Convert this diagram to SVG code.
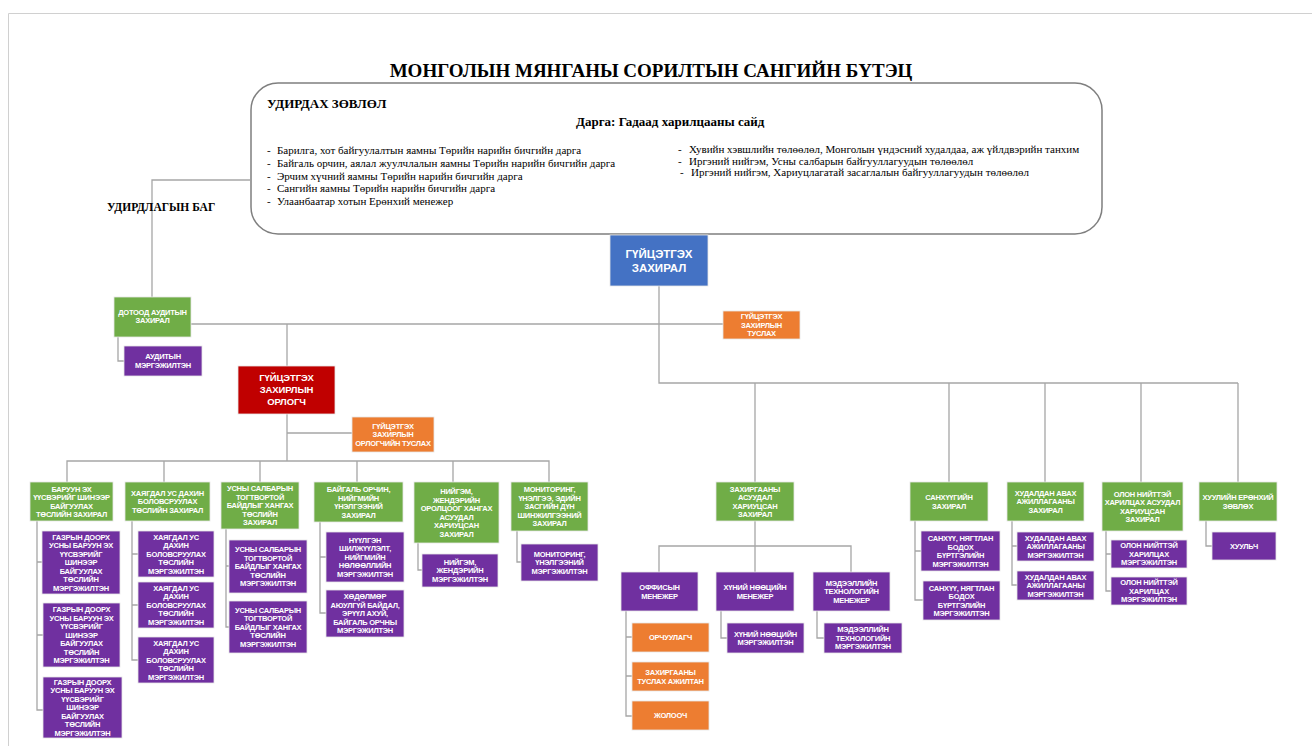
<svg xmlns="http://www.w3.org/2000/svg" width="1312" height="746" viewBox="0 0 1312 746">
<style>
.bg{fill:#ffffff}
.page{fill:none;stroke:#d0d0d0;stroke-width:1}
.c{fill:none;stroke:#a6a6a6;stroke-width:1.3}
.board{fill:#ffffff;stroke:#7f7f7f;stroke-width:1.5}
.g{fill:#70ad47;stroke:#e6e6e6;stroke-width:0.8}
.p{fill:#7030a0;stroke:#e6e6e6;stroke-width:0.8}
.o{fill:#ed7d31;stroke:#e6e6e6;stroke-width:0.8}
.b{fill:#4472c4;stroke:#e6e6e6;stroke-width:0.8}
.r{fill:#c00000;stroke:#e6e6e6;stroke-width:0.8}
.t{font-family:"Liberation Sans",Arial,sans-serif;font-weight:bold;fill:#ffffff;font-size:7.5px;text-anchor:middle;letter-spacing:-0.25px}
.tb{font-size:11.5px;letter-spacing:0}
.tr{font-size:9.5px;letter-spacing:-0.1px}
.s{font-family:"Liberation Serif","Times New Roman",serif;fill:#000000}
.h{font-weight:bold}
.li{font-size:11px}
</style>
<rect class="bg" x="0" y="0" width="1312" height="746"/>
<path class="page" d="M8.5 746 V13.5 H1312"/>

<text class="s h" x="651" y="77" font-size="19" text-anchor="middle">МОНГОЛЫН МЯНГАНЫ СОРИЛТЫН САНГИЙН БҮТЭЦ</text>

<g id="connectors">
<path class="c" d="M250 180 H152 V297"/>
<path class="c" d="M118 337 V361 H124"/>
<path class="c" d="M191 324 H723"/>
<path class="c" d="M659 286 V383 H1238"/>
<path class="c" d="M287 324 V366"/>
<path class="c" d="M287 414 V461"/>
<path class="c" d="M287 433 H352"/>
<path class="c" d="M67 482 V461 H549 V482"/>
<path class="c" d="M164 461 V482 M260 461 V482 M357 461 V482 M453 461 V482"/>
<path class="c" d="M37 521 V710 H43 M37 562 H42 M37 635 H43"/>
<path class="c" d="M132 521 V660 H138 M132 554 H138 M132 605 H138"/>
<path class="c" d="M226 529 V627 H229 M226 566 H229"/>
<path class="c" d="M320 522 V613 H326 M320 557 H326"/>
<path class="c" d="M418 543 V570 H422"/>
<path class="c" d="M517 531 V562 H521"/>
<path class="c" d="M755 383 V482 M949 383 V482 M1045 383 V482 M1141 383 V482 M1238 383 V482"/>
<path class="c" d="M755 521 V572"/>
<path class="c" d="M659 572 V546 H851 V572"/>
<path class="c" d="M626 611 V716 H632 M626 637 H632 M626 676 H632"/>
<path class="c" d="M721 611 V638 H727"/>
<path class="c" d="M817 611 V638 H824"/>
<path class="c" d="M915 521 V600 H923 M915 551 H921"/>
<path class="c" d="M1012 521 V585 H1017 M1012 546 H1017"/>
<path class="c" d="M1106 531 V591 H1111 M1106 554 H1111"/>
<path class="c" d="M1206 521 V546 H1212"/>
</g>

<g id="board">
<rect class="board" x="251" y="83" width="851" height="151" rx="27" ry="27"/>
<text class="s h" x="267" y="108" font-size="13">УДИРДАХ ЗӨВЛӨЛ</text>
<text class="s h" x="576" y="126" font-size="13">Дарга: Гадаад харилцааны сайд</text>
<g class="s li">
<text x="267" y="154">-</text><text x="277" y="154">Барилга, хот байгуулалтын яамны Төрийн нарийн бичгийн дарга</text>
<text x="267" y="166.8">-</text><text x="277" y="166.8">Байгаль орчин, аялал жуулчлалын яамны Төрийн нарийн бичгийн дарга</text>
<text x="267" y="179.6">-</text><text x="277" y="179.6">Эрчим хүчний яамны Төрийн нарийн бичгийн дарга</text>
<text x="267" y="192.4">-</text><text x="277" y="192.4">Сангийн яамны Төрийн нарийн бичгийн дарга</text>
<text x="267" y="205.2">-</text><text x="277" y="205.2">Улаанбаатар хотын Ерөнхий менежер</text>
<text x="678" y="153">-</text><text x="689" y="153">Хувийн хэвшлийн төлөөлөл, Монголын үндэсний худалдаа, аж үйлдвэрийн танхим</text>
<text x="678" y="164.5">-</text><text x="689" y="164.5">Иргэний нийгэм, Усны салбарын байгууллагуудын төлөөлөл</text>
<text x="680" y="175.5">-</text><text x="691" y="175.5">Иргэний нийгэм, Хариуцлагатай засаглалын байгууллагуудын төлөөлөл</text>
</g>
</g>

<g id="mgmt-team"><text class="s h" x="107" y="211" font-size="11.5">УДИРДЛАГЫН БАГ</text></g>

<g id="ceo"><rect class="b" x="610" y="235" width="98" height="51"/>
<text class="t tb"><tspan x="659" y="257.6">ГҮЙЦЭТГЭХ</tspan><tspan x="659" y="271.6">ЗАХИРАЛ</tspan></text></g>

<g id="audit-dir"><rect class="g" x="114" y="297" width="77" height="40"/>
<text class="t"><tspan x="152.5" y="314.5">ДОТООД АУДИТЫН</tspan><tspan x="152.5" y="323">ЗАХИРАЛ</tspan></text></g>

<g id="audit-spec"><rect class="p" x="124" y="346" width="78" height="30"/>
<text class="t"><tspan x="163" y="359.4">АУДИТЫН</tspan><tspan x="163" y="367.9">МЭРГЭЖИЛТЭН</tspan></text></g>

<g id="ceo-assistant"><rect class="o" x="723" y="311" width="77" height="28"/>
<text class="t"><tspan x="761.5" y="319.2">ГҮЙЦЭТГЭХ</tspan><tspan x="761.5" y="327.7">ЗАХИРЛЫН</tspan><tspan x="761.5" y="336.2">ТУСЛАХ</tspan></text></g>

<g id="deputy"><rect class="r" x="238" y="366" width="97" height="48"/>
<text class="t tr"><tspan x="286.5" y="381.4">ГҮЙЦЭТГЭХ</tspan><tspan x="286.5" y="393.4">ЗАХИРЛЫН</tspan><tspan x="286.5" y="405.4">ОРЛОГЧ</tspan></text></g>

<g id="deputy-assistant"><rect class="o" x="352" y="417" width="82" height="35"/>
<text class="t"><tspan x="393" y="428.7">ГҮЙЦЭТГЭХ</tspan><tspan x="393" y="437.2">ЗАХИРЛЫН</tspan><tspan x="393" y="445.7">ОРЛОГЧИЙН ТУСЛАХ</tspan></text></g>

<g id="west-dir"><rect class="g" x="30" y="482" width="83" height="39"/>
<text class="t"><tspan x="71.5" y="491.5">БАРУУН ЭХ</tspan><tspan x="71.5" y="500">ҮҮСВЭРИЙГ ШИНЭЭР</tspan><tspan x="71.5" y="508.5">БАЙГУУЛАХ</tspan><tspan x="71.5" y="517">ТӨСЛИЙН ЗАХИРАЛ</tspan></text></g>

<g id="waste-dir"><rect class="g" x="125" y="482" width="85" height="39"/>
<text class="t"><tspan x="167.5" y="495.7">ХАЯГДАЛ УС ДАХИН</tspan><tspan x="167.5" y="504.2">БОЛОВСРУУЛАХ</tspan><tspan x="167.5" y="512.7">ТӨСЛИЙН ЗАХИРАЛ</tspan></text></g>

<g id="water-dir"><rect class="g" x="221" y="482" width="78" height="47"/>
<text class="t"><tspan x="260" y="491.2">УСНЫ САЛБАРЫН</tspan><tspan x="260" y="499.7">ТОГТВОРТОЙ</tspan><tspan x="260" y="508.2">БАЙДЛЫГ ХАНГАХ</tspan><tspan x="260" y="516.7">ТӨСЛИЙН</tspan><tspan x="260" y="525.2">ЗАХИРАЛ</tspan></text></g>

<g id="env-dir"><rect class="g" x="314" y="482" width="89" height="40"/>
<text class="t"><tspan x="358.5" y="492">БАЙГАЛЬ ОРЧИН,</tspan><tspan x="358.5" y="500.5">НИЙГМИЙН</tspan><tspan x="358.5" y="509">ҮНЭЛГЭЭНИЙ</tspan><tspan x="358.5" y="517.5">ЗАХИРАЛ</tspan></text></g>

<g id="social-dir"><rect class="g" x="414" y="482" width="85" height="61"/>
<text class="t"><tspan x="456.5" y="494">НИЙГЭМ,</tspan><tspan x="456.5" y="502.5">ЖЕНДЭРИЙН</tspan><tspan x="456.5" y="511">ОРОЛЦООГ ХАНГАХ</tspan><tspan x="456.5" y="519.5">АСУУДАЛ</tspan><tspan x="456.5" y="528">ХАРИУЦСАН</tspan><tspan x="456.5" y="536.5">ЗАХИРАЛ</tspan></text></g>

<g id="monitor-dir"><rect class="g" x="511" y="482" width="77" height="49"/>
<text class="t"><tspan x="549.5" y="492.2">МОНИТОРИНГ,</tspan><tspan x="549.5" y="500.7">ҮНЭЛГЭЭ, ЭДИЙН</tspan><tspan x="549.5" y="509.2">ЗАСГИЙН ДҮН</tspan><tspan x="549.5" y="517.7">ШИНЖИЛГЭЭНИЙ</tspan><tspan x="549.5" y="526.2">ЗАХИРАЛ</tspan></text></g>

<g id="west-spec-1"><rect class="p" x="42" y="531" width="78" height="63"/>
<text class="t"><tspan x="81" y="539.7">ГАЗРЫН ДООРХ</tspan><tspan x="81" y="548.2">УСНЫ БАРУУН ЭХ</tspan><tspan x="81" y="556.7">ҮҮСВЭРИЙГ</tspan><tspan x="81" y="565.2">ШИНЭЭР</tspan><tspan x="81" y="573.7">БАЙГУУЛАХ</tspan><tspan x="81" y="582.2">ТӨСЛИЙН</tspan><tspan x="81" y="590.7">МЭРГЭЖИЛТЭН</tspan></text></g>

<g id="west-spec-2"><rect class="p" x="43" y="603" width="77" height="64"/>
<text class="t"><tspan x="81.5" y="612.2">ГАЗРЫН ДООРХ</tspan><tspan x="81.5" y="620.7">УСНЫ БАРУУН ЭХ</tspan><tspan x="81.5" y="629.2">ҮҮСВЭРИЙГ</tspan><tspan x="81.5" y="637.7">ШИНЭЭР</tspan><tspan x="81.5" y="646.2">БАЙГУУЛАХ</tspan><tspan x="81.5" y="654.7">ТӨСЛИЙН</tspan><tspan x="81.5" y="663.2">МЭРГЭЖИЛТЭН</tspan></text></g>

<g id="west-spec-3"><rect class="p" x="43" y="677" width="79" height="61"/>
<text class="t"><tspan x="82.5" y="684.7">ГАЗРЫН ДООРХ</tspan><tspan x="82.5" y="693.2">УСНЫ БАРУУН ЭХ</tspan><tspan x="82.5" y="701.7">ҮҮСВЭРИЙГ</tspan><tspan x="82.5" y="710.2">ШИНЭЭР</tspan><tspan x="82.5" y="718.7">БАЙГУУЛАХ</tspan><tspan x="82.5" y="727.2">ТӨСЛИЙН</tspan><tspan x="82.5" y="735.7">МЭРГЭЖИЛТЭН</tspan></text></g>

<g id="waste-spec-1"><rect class="p" x="138" y="531" width="76" height="46"/>
<text class="t"><tspan x="176" y="539.7">ХАЯГДАЛ УС</tspan><tspan x="176" y="548.2">ДАХИН</tspan><tspan x="176" y="556.7">БОЛОВСРУУЛАХ</tspan><tspan x="176" y="565.2">ТӨСЛИЙН</tspan><tspan x="176" y="573.7">МЭРГЭЖИЛТЭН</tspan></text></g>

<g id="waste-spec-2"><rect class="p" x="138" y="582" width="76" height="46"/>
<text class="t"><tspan x="176" y="590.7">ХАЯГДАЛ УС</tspan><tspan x="176" y="599.2">ДАХИН</tspan><tspan x="176" y="607.7">БОЛОВСРУУЛАХ</tspan><tspan x="176" y="616.2">ТӨСЛИЙН</tspan><tspan x="176" y="624.7">МЭРГЭЖИЛТЭН</tspan></text></g>

<g id="waste-spec-3"><rect class="p" x="138" y="637" width="76" height="46"/>
<text class="t"><tspan x="176" y="645.7">ХАЯГДАЛ УС</tspan><tspan x="176" y="654.2">ДАХИН</tspan><tspan x="176" y="662.7">БОЛОВСРУУЛАХ</tspan><tspan x="176" y="671.2">ТӨСЛИЙН</tspan><tspan x="176" y="679.7">МЭРГЭЖИЛТЭН</tspan></text></g>

<g id="water-spec-1"><rect class="p" x="229" y="540" width="78" height="53"/>
<text class="t"><tspan x="268" y="552.2">УСНЫ САЛБАРЫН</tspan><tspan x="268" y="560.7">ТОГТВОРТОЙ</tspan><tspan x="268" y="569.2">БАЙДЛЫГ ХАНГАХ</tspan><tspan x="268" y="577.7">ТӨСЛИЙН</tspan><tspan x="268" y="586.2">МЭРГЭЖИЛТЭН</tspan></text></g>

<g id="water-spec-2"><rect class="p" x="229" y="601" width="78" height="52"/>
<text class="t"><tspan x="268" y="612.7">УСНЫ САЛБАРЫН</tspan><tspan x="268" y="621.2">ТОГТВОРТОЙ</tspan><tspan x="268" y="629.7">БАЙДЛЫГ ХАНГАХ</tspan><tspan x="268" y="638.2">ТӨСЛИЙН</tspan><tspan x="268" y="646.7">МЭРГЭЖИЛТЭН</tspan></text></g>

<g id="env-spec-1"><rect class="p" x="326" y="532" width="78" height="50"/>
<text class="t"><tspan x="365" y="542.7">НҮҮЛГЭН</tspan><tspan x="365" y="551.2">ШИЛЖҮҮЛЭЛТ,</tspan><tspan x="365" y="559.7">НИЙГМИЙН</tspan><tspan x="365" y="568.2">НӨЛӨӨЛЛИЙН</tspan><tspan x="365" y="576.7">МЭРГЭЖИЛТЭН</tspan></text></g>

<g id="env-spec-2"><rect class="p" x="326" y="590" width="78" height="47"/>
<text class="t"><tspan x="365" y="599.2">ХӨДӨЛМӨР</tspan><tspan x="365" y="607.7">АЮУЛГҮЙ БАЙДАЛ,</tspan><tspan x="365" y="616.2">ЭРҮҮЛ АХУЙ,</tspan><tspan x="365" y="624.7">БАЙГАЛЬ ОРЧНЫ</tspan><tspan x="365" y="633.2">МЭРГЭЖИЛТЭН</tspan></text></g>

<g id="social-spec"><rect class="p" x="422" y="554" width="76" height="33"/>
<text class="t"><tspan x="460" y="564.7">НИЙГЭМ,</tspan><tspan x="460" y="573.2">ЖЕНДЭРИЙН</tspan><tspan x="460" y="581.7">МЭРГЭЖИЛТЭН</tspan></text></g>

<g id="monitor-spec"><rect class="p" x="521" y="544" width="77" height="37"/>
<text class="t"><tspan x="559.5" y="556.7">МОНИТОРИНГ,</tspan><tspan x="559.5" y="565.2">ҮНЭЛГЭЭНИЙ</tspan><tspan x="559.5" y="573.7">МЭРГЭЖИЛТЭН</tspan></text></g>

<g id="admin-dir"><rect class="g" x="716" y="482" width="78" height="39"/>
<text class="t"><tspan x="755" y="491.5">ЗАХИРГААНЫ</tspan><tspan x="755" y="500">АСУУДАЛ</tspan><tspan x="755" y="508.5">ХАРИУЦСАН</tspan><tspan x="755" y="517">ЗАХИРАЛ</tspan></text></g>

<g id="office-mgr"><rect class="p" x="621" y="572" width="77" height="39"/>
<text class="t"><tspan x="659.5" y="590">ОФФИСЫН</tspan><tspan x="659.5" y="598.5">МЕНЕЖЕР</tspan></text></g>

<g id="hr-mgr"><rect class="p" x="716" y="572" width="78" height="39"/>
<text class="t"><tspan x="755" y="590">ХҮНИЙ НӨӨЦИЙН</tspan><tspan x="755" y="598.5">МЕНЕЖЕР</tspan></text></g>

<g id="it-mgr"><rect class="p" x="813" y="572" width="77" height="39"/>
<text class="t"><tspan x="851.5" y="585.7">МЭДЭЭЛЛИЙН</tspan><tspan x="851.5" y="594.2">ТЕХНОЛОГИЙН</tspan><tspan x="851.5" y="602.7">МЕНЕЖЕР</tspan></text></g>

<g id="translator"><rect class="o" x="632" y="623" width="77" height="29"/>
<text class="t"><tspan x="670.5" y="640.2">ОРЧУУЛАГЧ</tspan></text></g>

<g id="admin-assistant"><rect class="o" x="632" y="662" width="77" height="29"/>
<text class="t"><tspan x="670.5" y="675">ЗАХИРГААНЫ</tspan><tspan x="670.5" y="683.5">ТУСЛАХ АЖИЛТАН</tspan></text></g>

<g id="driver"><rect class="o" x="632" y="701" width="77" height="29"/>
<text class="t"><tspan x="670.5" y="718.2">ЖОЛООЧ</tspan></text></g>

<g id="hr-spec"><rect class="p" x="727" y="623" width="77" height="30"/>
<text class="t"><tspan x="765.5" y="636.5">ХҮНИЙ НӨӨЦИЙН</tspan><tspan x="765.5" y="645">МЭРГЭЖИЛТЭН</tspan></text></g>

<g id="it-spec"><rect class="p" x="824" y="623" width="78" height="30"/>
<text class="t"><tspan x="863" y="632.2">МЭДЭЭЛЛИЙН</tspan><tspan x="863" y="640.7">ТЕХНОЛОГИЙН</tspan><tspan x="863" y="649.2">МЭРГЭЖИЛТЭН</tspan></text></g>

<g id="finance-dir"><rect class="g" x="910" y="482" width="78" height="39"/>
<text class="t"><tspan x="949" y="500">САНХҮҮГИЙН</tspan><tspan x="949" y="508.5">ЗАХИРАЛ</tspan></text></g>

<g id="finance-spec-1"><rect class="p" x="921" y="531" width="79" height="40"/>
<text class="t"><tspan x="960.5" y="541">САНХҮҮ, НЯГТЛАН</tspan><tspan x="960.5" y="549.5">БОДОХ</tspan><tspan x="960.5" y="558">БҮРТГЭЛИЙН</tspan><tspan x="960.5" y="566.5">МЭРГЭЖИЛТЭН</tspan></text></g>

<g id="finance-spec-2"><rect class="p" x="923" y="581" width="77" height="39"/>
<text class="t"><tspan x="961.5" y="590.5">САНХҮҮ, НЯГТЛАН</tspan><tspan x="961.5" y="599">БОДОХ</tspan><tspan x="961.5" y="607.5">БҮРТГЭЛИЙН</tspan><tspan x="961.5" y="616">МЭРГЭЖИЛТЭН</tspan></text></g>

<g id="procure-dir"><rect class="g" x="1007" y="482" width="77" height="39"/>
<text class="t"><tspan x="1045.5" y="495.7">ХУДАЛДАН АВАХ</tspan><tspan x="1045.5" y="504.2">АЖИЛЛАГААНЫ</tspan><tspan x="1045.5" y="512.7">ЗАХИРАЛ</tspan></text></g>

<g id="procure-spec-1"><rect class="p" x="1017" y="532" width="77" height="29"/>
<text class="t"><tspan x="1055.5" y="540.7">ХУДАЛДАН АВАХ</tspan><tspan x="1055.5" y="549.2">АЖИЛЛАГААНЫ</tspan><tspan x="1055.5" y="557.7">МЭРГЭЖИЛТЭН</tspan></text></g>

<g id="procure-spec-2"><rect class="p" x="1017" y="571" width="77" height="29"/>
<text class="t"><tspan x="1055.5" y="579.7">ХУДАЛДАН АВАХ</tspan><tspan x="1055.5" y="588.2">АЖИЛЛАГААНЫ</tspan><tspan x="1055.5" y="596.7">МЭРГЭЖИЛТЭН</tspan></text></g>

<g id="pr-dir"><rect class="g" x="1102" y="482" width="81" height="49"/>
<text class="t"><tspan x="1142.5" y="496.5">ОЛОН НИЙТТЭЙ</tspan><tspan x="1142.5" y="505">ХАРИЛЦАХ АСУУДАЛ</tspan><tspan x="1142.5" y="513.5">ХАРИУЦСАН</tspan><tspan x="1142.5" y="522">ЗАХИРАЛ</tspan></text></g>

<g id="pr-spec-1"><rect class="p" x="1111" y="540" width="76" height="28"/>
<text class="t"><tspan x="1149" y="548.2">ОЛОН НИЙТТЭЙ</tspan><tspan x="1149" y="556.7">ХАРИЛЦАХ</tspan><tspan x="1149" y="565.2">МЭРГЭЖИЛТЭН</tspan></text></g>

<g id="pr-spec-2"><rect class="p" x="1111" y="577" width="76" height="28"/>
<text class="t"><tspan x="1149" y="585.2">ОЛОН НИЙТТЭЙ</tspan><tspan x="1149" y="593.7">ХАРИЛЦАХ</tspan><tspan x="1149" y="602.2">МЭРГЭЖИЛТЭН</tspan></text></g>

<g id="legal-dir"><rect class="g" x="1199" y="482" width="78" height="39"/>
<text class="t"><tspan x="1238" y="500">ХУУЛИЙН ЕРӨНХИЙ</tspan><tspan x="1238" y="508.5">ЗӨВЛӨХ</tspan></text></g>

<g id="lawyer"><rect class="p" x="1212" y="532" width="64" height="28"/>
<text class="t"><tspan x="1244" y="548.7">ХУУЛЬЧ</tspan></text></g>
</svg>
